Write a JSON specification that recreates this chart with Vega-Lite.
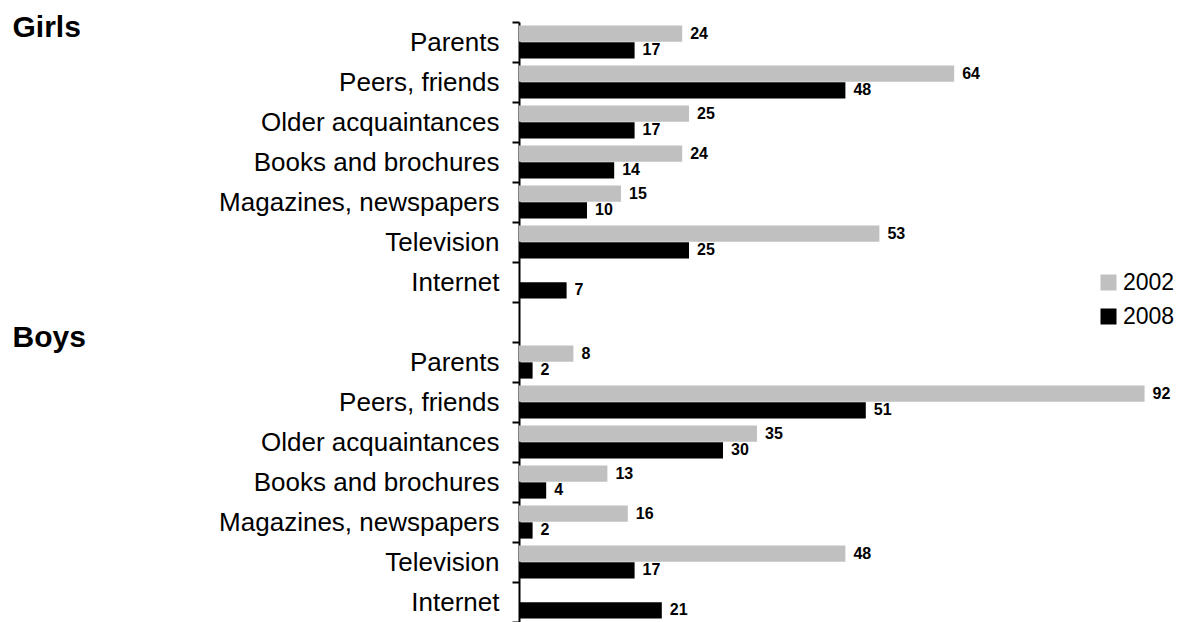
{
  "$schema": "https://vega.github.io/schema/vega-lite/v6.json",
  "width": 664,
  "height": 600,
  "autosize": {"type": "none"},
  "padding": {"left": 519, "top": 22, "right": 0, "bottom": 0},
  "background": "white",
  "config": {"view": {"stroke": null}, "font": "Liberation Sans"},
  "data": {"values": [
    {"row": "G|Parents", "year": "2002", "value": 24},
    {"row": "G|Parents", "year": "2008", "value": 17},
    {"row": "G|Peers, friends", "year": "2002", "value": 64},
    {"row": "G|Peers, friends", "year": "2008", "value": 48},
    {"row": "G|Older acquaintances", "year": "2002", "value": 25},
    {"row": "G|Older acquaintances", "year": "2008", "value": 17},
    {"row": "G|Books and brochures", "year": "2002", "value": 24},
    {"row": "G|Books and brochures", "year": "2008", "value": 14},
    {"row": "G|Magazines, newspapers", "year": "2002", "value": 15},
    {"row": "G|Magazines, newspapers", "year": "2008", "value": 10},
    {"row": "G|Television", "year": "2002", "value": 53},
    {"row": "G|Television", "year": "2008", "value": 25},
    {"row": "G|Internet", "year": "2008", "value": 7},
    {"row": "B|Parents", "year": "2002", "value": 8},
    {"row": "B|Parents", "year": "2008", "value": 2},
    {"row": "B|Peers, friends", "year": "2002", "value": 92},
    {"row": "B|Peers, friends", "year": "2008", "value": 51},
    {"row": "B|Older acquaintances", "year": "2002", "value": 35},
    {"row": "B|Older acquaintances", "year": "2008", "value": 30},
    {"row": "B|Books and brochures", "year": "2002", "value": 13},
    {"row": "B|Books and brochures", "year": "2008", "value": 4},
    {"row": "B|Magazines, newspapers", "year": "2002", "value": 16},
    {"row": "B|Magazines, newspapers", "year": "2008", "value": 2},
    {"row": "B|Television", "year": "2002", "value": 48},
    {"row": "B|Television", "year": "2008", "value": 17},
    {"row": "B|Internet", "year": "2008", "value": 21}
  ]},
  "resolve": {"axis": {"y": "independent"}},
  "layer": [
    {
      "mark": {"type": "bar"},
      "encoding": {
        "y": {
          "field": "row", "type": "nominal",
          "scale": {"domain": ["G|Parents", "G|Peers, friends", "G|Older acquaintances", "G|Books and brochures", "G|Magazines, newspapers", "G|Television", "G|Internet", "gap|", "B|Parents", "B|Peers, friends", "B|Older acquaintances", "B|Books and brochures", "B|Magazines, newspapers", "B|Television", "B|Internet"], "paddingInner": 0, "paddingOuter": 0},
          "axis": {"title": null, "labelExpr": "split(datum.value, '|')[1]", "labelFontSize": 26, "labelColor": "black", "labelLimit": 0, "labelPadding": 13, "tickSize": 7, "tickWidth": 2, "tickColor": "black", "domainColor": "black", "domainWidth": 2, "tickBand": "extent", "labelOverlap": false, "grid": false}
        },
        "yOffset": {"field": "year", "type": "nominal", "scale": {"domain": ["2002", "2008"], "paddingOuter": 0.2, "paddingInner": 0.04}},
        "x": {"field": "value", "type": "quantitative", "scale": {"domain": [0, 97.65], "nice": false, "zero": true}, "axis": null},
        "color": {
          "field": "year", "type": "nominal",
          "scale": {"domain": ["2002", "2008"], "range": ["#c0c0c0", "#000000"]},
          "legend": {"orient": "none", "legendX": 578, "legendY": 249, "title": null, "symbolType": "square", "symbolSize": 256, "symbolStrokeWidth": 0, "symbolOpacity": 1, "labelFontSize": 23, "labelColor": "black", "labelOffset": 3, "rowPadding": 10}
        }
      }
    },
    {
      "mark": {"type": "text", "align": "left", "baseline": "middle", "dx": 8, "fontSize": 16, "fontWeight": "bold", "color": "black"},
      "encoding": {
        "y": {"field": "row", "type": "nominal", "axis": null},
        "yOffset": {"field": "year", "type": "nominal"},
        "x": {"field": "value", "type": "quantitative"},
        "text": {"field": "value", "type": "quantitative"}
      }
    },
    {
      "data": {"values": [{"row": "G|Parents", "h": "Girls"}, {"row": "gap|", "h": "Boys"}]},
      "mark": {"type": "point", "opacity": 0},
      "encoding": {
        "y": {
          "field": "row", "type": "nominal",
          "axis": {"orient": "left", "offset": 507, "title": null, "domain": false, "ticks": false, "grid": false, "labelPadding": 0, "labelAlign": "left", "labelBaseline": "alphabetic", "labelFontSize": 30, "labelFontWeight": "bold", "labelColor": "black", "labelLimit": 0, "labelOverlap": false,
            "labelOffset": {"condition": {"test": "datum.value == 'gap|'", "value": 25}, "value": -5},
            "labelExpr": "datum.value == 'G|Parents' ? 'Girls' : (datum.value == 'gap|' ? 'Boys' : '')"}
        }
      }
    }
  ]
}
